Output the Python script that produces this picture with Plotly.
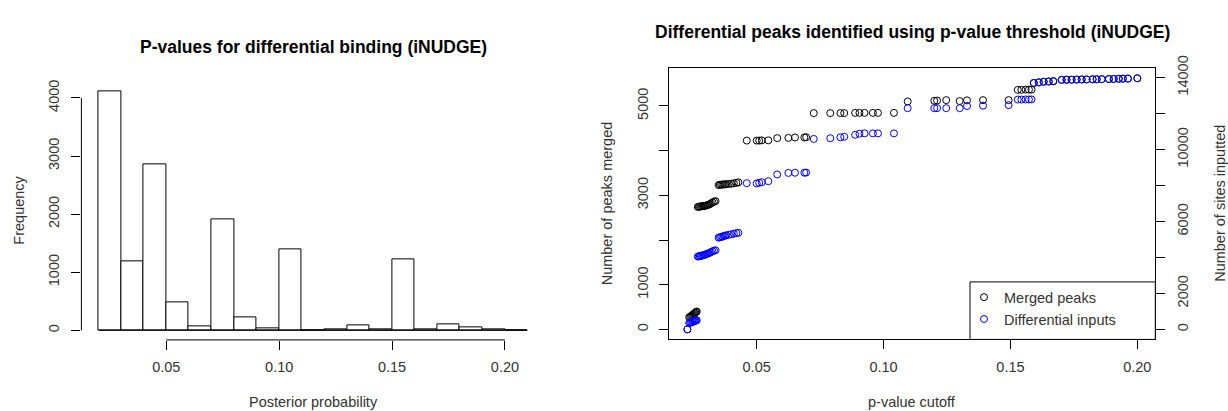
import plotly.graph_objects as go

# ---------------- data ----------------
# Histogram of posterior probabilities (bin edges 0.02 .. 0.21)
bin_edges = [0.02, 0.03, 0.04, 0.05, 0.06, 0.07, 0.08, 0.09, 0.10, 0.11,
             0.12, 0.13, 0.14, 0.15, 0.16, 0.17, 0.18, 0.19, 0.20, 0.21]
bin_counts = [4120, 1180, 2850, 480, 75, 1910, 225, 35, 1390, 8,
              22, 90, 22, 1230, 22, 105, 55, 22, 0]
hist_xticks = [0.05, 0.10, 0.15, 0.20]
hist_xticklabels = ["0.05", "0.10", "0.15", "0.20"]
hist_yticks = [0, 1000, 2000, 3000, 4000]

# p-value cutoff scatter
pval_cutoff = [
    0.0227, 0.0234, 0.0238, 0.0242, 0.0246, 0.0249, 0.0252, 0.0255, 0.0258, 0.0261, 0.0264,
    0.0268, 0.0272, 0.0276, 0.0280, 0.0284, 0.0288, 0.0292, 0.0296, 0.0300, 0.0305, 0.0310,
    0.0315, 0.0320, 0.0326, 0.0332, 0.0338,
    0.0350, 0.0355, 0.0360, 0.0365, 0.0370, 0.0375, 0.0380, 0.0390, 0.0400, 0.0410, 0.0420, 0.0428,
    0.0461, 0.0500, 0.0510, 0.0520, 0.0546,
    0.0581, 0.0625, 0.0651, 0.0688, 0.0695,
    0.0725, 0.0790, 0.0830, 0.0845, 0.0888, 0.0905, 0.0925, 0.0958, 0.0978, 0.1041,
    0.1095, 0.1200, 0.1211, 0.1247, 0.1300, 0.1329, 0.1392, 0.1493,
    0.1529, 0.1543, 0.1560, 0.1573, 0.1583,
    0.1592, 0.1612, 0.1631, 0.1651, 0.1669,
    0.1702, 0.1721, 0.1741, 0.1761, 0.1781, 0.1800, 0.1824, 0.1840, 0.1860, 0.1888,
    0.1907, 0.1927, 0.1943, 0.1963, 0.2000,
]
merged_peaks = [
    0, 270, 285, 300, 315, 330, 345, 360, 375, 390, 400,
    2740, 2745, 2750, 2750, 2755, 2760, 2760, 2765, 2770, 2780, 2790,
    2800, 2820, 2840, 2860, 2870,
    3230, 3235, 3240, 3240, 3245, 3245, 3250, 3255, 3260, 3270, 3280, 3290,
    4225, 4225, 4225, 4230, 4230,
    4280, 4285, 4295, 4295, 4300,
    4840, 4840, 4840, 4840, 4845, 4845, 4845, 4845, 4845, 4845,
    5100, 5115, 5120, 5130, 5110, 5125, 5130, 5130,
    5360, 5360, 5365, 5365, 5365,
    5515, 5530, 5540, 5545, 5550,
    5585, 5590, 5590, 5592, 5595, 5595, 5598, 5600, 5600, 5605,
    5605, 5610, 5612, 5615, 5620,
]
diff_inputs = [
    0, 350, 370, 390, 410, 430, 450, 465, 480, 495, 510,
    4050, 4060, 4080, 4090, 4100, 4120, 4130, 4150, 4180, 4200, 4230,
    4260, 4300, 4340, 4380, 4400,
    5100, 5120, 5140, 5160, 5190, 5210, 5230, 5260, 5290, 5320, 5350, 5370,
    8130, 8115, 8150, 8185, 8240,
    8616, 8700, 8710, 8710, 8720,
    10590, 10630, 10680, 10710, 10820, 10880, 10900, 10900, 10900, 10900,
    12300, 12300, 12300, 12300, 12300, 12420, 12440, 12470,
    12780, 12780, 12785, 12785, 12790,
    13700, 13730, 13770, 13790, 13810,
    13870, 13875, 13880, 13885, 13890, 13895, 13900, 13905, 13910, 13915,
    13920, 13930, 13935, 13940, 13965,
]
sc_xticks = [0.05, 0.10, 0.15, 0.20]
sc_xticklabels = ["0.05", "0.10", "0.15", "0.20"]
peaks_ticks = [0, 1000, 2000, 3000, 4000, 5000]
peaks_ticklabels = ["0", "1000", "", "3000", "", "5000"]
sites_ticks = [0, 2000, 4000, 6000, 8000, 10000, 12000, 14000]
sites_ticklabels = ["0", "2000", "", "6000", "", "10000", "", "14000"]

# ---------------- layout helpers ----------------
W, H = 1228, 411
FONT = "Liberation Sans, Arial, sans-serif"
TXT = "#333333"


def rlim(vals):
    lo, hi = min(vals), max(vals)
    pad = 0.04 * (hi - lo)
    return [lo - pad, hi + pad]


def px_x(p):
    return p / W


def px_y(p):
    return 1 - p / H


hist_xdom = [px_x(81.4), px_x(544.7)]
hist_ydom = [px_y(337.6), px_y(70.6)]
sc_xdom = [px_x(669.4), px_x(1155.3)]
sc_ydom = [px_y(337.1), px_y(57.0)]

bin_centers = [(a + b) / 2 for a, b in zip(bin_edges[:-1], bin_edges[1:])]
bin_width = bin_edges[1] - bin_edges[0]

fig = go.Figure()
fig.add_trace(go.Bar(
    x=bin_centers, y=bin_counts, width=bin_width,
    marker=dict(color="white", line=dict(color="black", width=1)),
    xaxis="x", yaxis="y", showlegend=False,
))
fig.add_trace(go.Scatter(
    x=pval_cutoff, y=merged_peaks, mode="markers", name="Merged peaks",
    marker=dict(symbol="circle-open", size=7, color="black", line=dict(width=1)),
    xaxis="x2", yaxis="y3",
))
fig.add_trace(go.Scatter(
    x=pval_cutoff, y=diff_inputs, mode="markers", name="Differential inputs",
    marker=dict(symbol="circle-open", size=7, color="blue", line=dict(width=1)),
    xaxis="x2", yaxis="y4",
))

tickfont = dict(family=FONT, size=14.5, color=TXT)
common = dict(showgrid=False, zeroline=False, ticks="outside", ticklen=9,
              tickcolor="black", tickwidth=1, tickfont=tickfont)

fig.update_layout(
    width=W, height=H, autosize=False,
    margin=dict(l=0, r=0, t=0, b=0),
    paper_bgcolor="white", plot_bgcolor="white",
    bargap=0,
    xaxis=dict(domain=hist_xdom, anchor="y", range=rlim(bin_edges),
               tickvals=hist_xticks, ticktext=hist_xticklabels,
               showline=False, ticklabelstandoff=5, **common),
    yaxis=dict(domain=hist_ydom, anchor="x", range=rlim([0] + bin_counts),
               tickvals=hist_yticks, tickangle=-90, showline=False,
               ticklabelstandoff=7, **common),
    xaxis2=dict(domain=sc_xdom, anchor="y3", range=rlim(pval_cutoff),
                tickvals=sc_xticks, ticktext=sc_xticklabels,
                showline=True, mirror=True, linecolor="black", linewidth=1,
                ticklabelstandoff=5, **common),
    yaxis3=dict(domain=sc_ydom, anchor="x2", range=rlim(merged_peaks),
                tickvals=peaks_ticks, ticktext=peaks_ticklabels, tickangle=-90,
                showline=True, mirror=True, linecolor="black", linewidth=1,
                ticklabelstandoff=6, **common),
    yaxis4=dict(overlaying="y3", anchor="x2", side="right", range=rlim(diff_inputs),
                tickvals=sites_ticks, ticktext=sites_ticklabels, tickangle=-90,
                showline=False, ticklabelposition="outside", ticklabelstandoff=5,
                **common),
    showlegend=True,
    legend=dict(x=px_x(964), xanchor="left", y=px_y(277), yanchor="top",
                bgcolor="rgba(0,0,0,0)", borderwidth=0,
                font=dict(family=FONT, size=14.5, color=TXT),
                tracegroupgap=0, itemwidth=30),
)

# R-style axis lines (span tick range) and histogram baseline
fig.add_shape(type="line", xref="x", yref="y domain",
              x0=hist_xticks[0], x1=hist_xticks[-1], y0=0, y1=0,
              line=dict(color="black", width=1))
fig.add_shape(type="line", xref="x domain", yref="y",
              x0=0, x1=0, y0=hist_yticks[0], y1=hist_yticks[-1],
              line=dict(color="black", width=1))
fig.add_shape(type="line", xref="x", yref="y",
              x0=bin_edges[0], x1=bin_edges[-1], y0=0, y1=0,
              line=dict(color="black", width=1))
# legend box
fig.add_shape(type="rect", xref="paper", yref="paper",
              x0=px_x(970), x1=sc_xdom[1], y0=sc_ydom[0], y1=px_y(277.7),
              line=dict(color="black", width=1), fillcolor="white", layer="above")

ann = []
ann.append(dict(text="<b>P-values for differential binding (iNUDGE)</b>",
                x=sum(hist_xdom) / 2, y=px_y(35), font=dict(family=FONT, size=17.5, color="black")))
ann.append(dict(text="<b>Differential peaks identified using p-value threshold (iNUDGE)</b>",
                x=sum(sc_xdom) / 2, y=px_y(20), font=dict(family=FONT, size=17.5, color="black")))
ann.append(dict(text="Posterior probability", x=sum(hist_xdom) / 2, y=px_y(402),
                font=dict(family=FONT, size=14.5, color=TXT)))
ann.append(dict(text="p-value cutoff", x=sum(sc_xdom) / 2, y=px_y(401.5),
                font=dict(family=FONT, size=14.5, color=TXT)))
ann.append(dict(text="Frequency", x=px_x(19), y=sum(hist_ydom) / 2, textangle=-90,
                font=dict(family=FONT, size=14.5, color=TXT)))
ann.append(dict(text="Number of peaks merged", x=px_x(606.5), y=sum(sc_ydom) / 2, textangle=-90,
                font=dict(family=FONT, size=14.5, color=TXT)))
ann.append(dict(text="Number of sites inputted", x=px_x(1220), y=sum(sc_ydom) / 2, textangle=-90,
                font=dict(family=FONT, size=14.5, color=TXT)))
for a in ann:
    a.update(xref="paper", yref="paper", showarrow=False, xanchor="center", yanchor="middle")
fig.update_layout(annotations=ann)

fig.write_html("out.html")
